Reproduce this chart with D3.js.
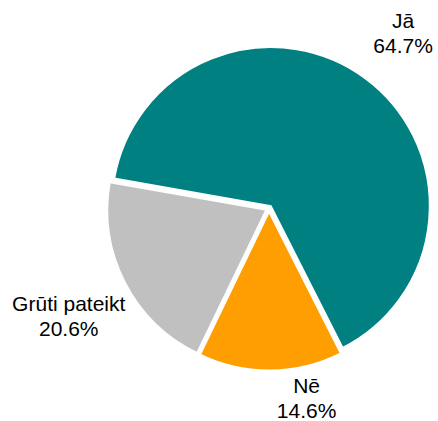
<!DOCTYPE html>
<html>
<head>
<meta charset="utf-8">
<script src="https://cdn.jsdelivr.net/npm/d3@7"></script>
<style>
	body { margin: 0; background: #fff; }
	text { font-family: "Liberation Sans", Arial, sans-serif; font-size: 21px; fill: #000; }
</style>
</head>
<body>
<div class="pie-chart"></div>
<script>
	var categories = ["Jā", "Nē", "Grūti pateikt"];
	var values = [64.7, 14.6, 20.6];
	var colors = ["#008080", "#ff9e00", "#c0c0c0"];

	var width = 438,
		height = 421,
		cx = 269,
		cy = 208.5,
		radius = 159,
		explode = 3,
		labelRadius = 225;

	// label tweaks (degrees, px) for slices that Excel moved off the default spot
	var labelShift = [[0, 0], [-11, -37], [0, 0]];

	var svg = d3.select(".pie-chart").append("svg")
		.attr("width", width)
		.attr("height", height)
		.append("g")
		.attr("transform", "translate(" + cx + "," + cy + ")");

	var pie = d3.pie()
		.sort(null)
		.startAngle(-80 * Math.PI / 180)
		.endAngle(280 * Math.PI / 180)
		.value(function (d) { return d; });

	var arcs = pie(values);

	var arc = d3.arc().innerRadius(0).outerRadius(radius);

	function mid(d) {
		return (d.startAngle + d.endAngle) / 2;
	}

	svg.selectAll(".slice")
		.data(arcs)
		.enter().append("path")
		.classed("slice", true)
		.attr("d", arc)
		.attr("fill", function (d, i) { return colors[i]; })
		.attr("stroke", "#fff")
		.attr("stroke-width", 2)
		.attr("transform", function (d) {
			var a = mid(d);
			return "translate(" + (explode * Math.sin(a)) + "," + (-explode * Math.cos(a)) + ")";
		});

	var labels = svg.selectAll(".label")
		.data(arcs)
		.enter().append("text")
		.classed("label", true)
		.attr("text-anchor", "middle")
		.attr("transform", function (d, i) {
			var a = mid(d) + labelShift[i][0] * Math.PI / 180,
				r = labelRadius + labelShift[i][1];
			return "translate(" + (r * Math.sin(a)) + "," + (-r * Math.cos(a)) + ")";
		});

	labels.append("tspan")
		.attr("x", 0)
		.attr("y", 0)
		.text(function (d, i) { return categories[i]; });

	labels.append("tspan")
		.attr("x", 0)
		.attr("y", 25)
		.text(function (d) { return d.value.toFixed(1) + "%"; });
</script>
</body>
</html>
